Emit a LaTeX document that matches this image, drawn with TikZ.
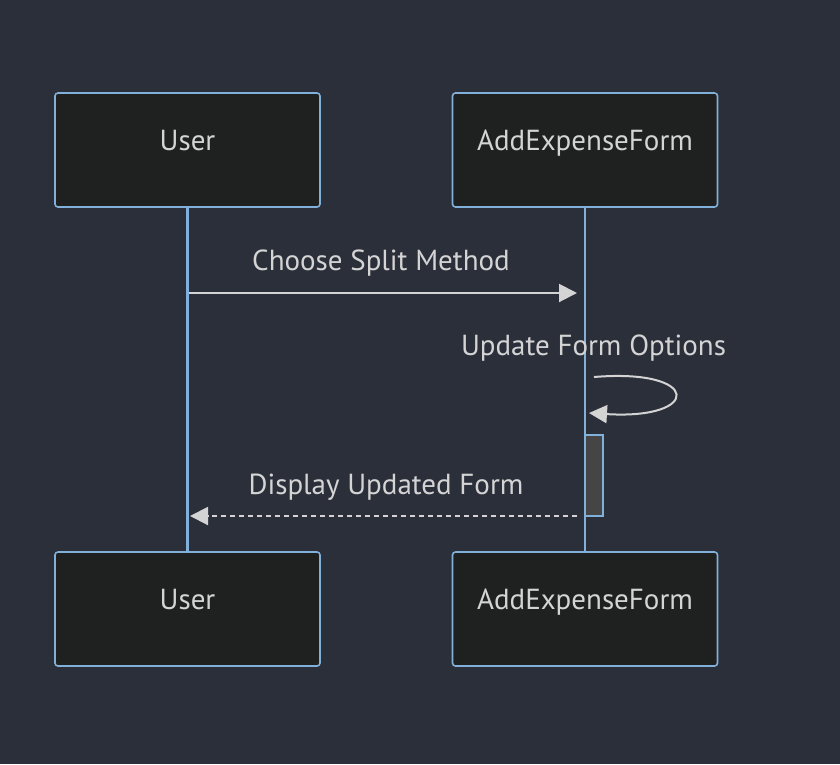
\documentclass[tikz,border=0pt]{standalone}
\usepackage{fontspec}
\setmainfont{PT Sans}
\usetikzlibrary{arrows.meta}
\definecolor{bg}{HTML}{2B2F3A}
\definecolor{boxfill}{HTML}{1F2020}
\definecolor{boxline}{HTML}{81B1DB}
\definecolor{txt}{HTML}{D4D4D4}
\definecolor{actfill}{HTML}{454545}
\begin{document}
\begin{tikzpicture}[x=1pt,y=-1pt,
  actor/.style={draw=boxline, fill=boxfill, line width=1.6pt, rounded corners=3pt,
    minimum width=265pt, minimum height=114pt, inner sep=0pt, text=txt,
    text height=0pt, text depth=0pt, font=\fontsize{29}{34}\selectfont},
  lifeline/.style={draw=boxline, line width=2.8pt},
  msg/.style={draw=txt, line width=2pt, -{Triangle[length=18pt,width=18pt]}},
  lbl/.style={text=txt, font=\fontsize{29}{34}\selectfont, inner sep=0pt, anchor=base}]
\fill[bg] (0,0) rectangle (840,764);
\useasboundingbox (0,0) rectangle (840,764);
\node[actor] (u1) at (187.5,150) {User};
\node[actor] (f1) at (585,150) {AddExpenseForm};
\node[actor] (u2) at (187.5,609) {User};
\node[actor] (f2) at (585,609) {AddExpenseForm};
\draw[lifeline] (u1.south) -- (u2.north);
\draw[lifeline] (f1.south) -- (f2.north);
\coordinate (m1s) at (189,293);
\coordinate (m1e) at (577,293);
\draw[msg] (m1s) -- (m1e);
\node[lbl] (l1) at (381,270) {Choose Split Method};
\node[lbl] (l2) at (593.5,355) {Update Form Options};
\coordinate (ls) at (594,377);
\coordinate (le) at (589,413);
\draw[msg] (ls) .. controls (702,368) and (702,420) .. (le);
\node[draw=boxline, fill=actfill, line width=1.2pt, minimum width=18pt, minimum height=81pt, inner sep=0pt] (act) at (594,475.5) {};
\coordinate (m3s) at (577,516);
\coordinate (m3e) at (190,516);
\draw[msg, dash pattern=on 5pt off 4pt] (m3s) -- (m3e);
\node[lbl] (l3) at (386,494) {Display Updated Form};
\end{tikzpicture}
\end{document}
